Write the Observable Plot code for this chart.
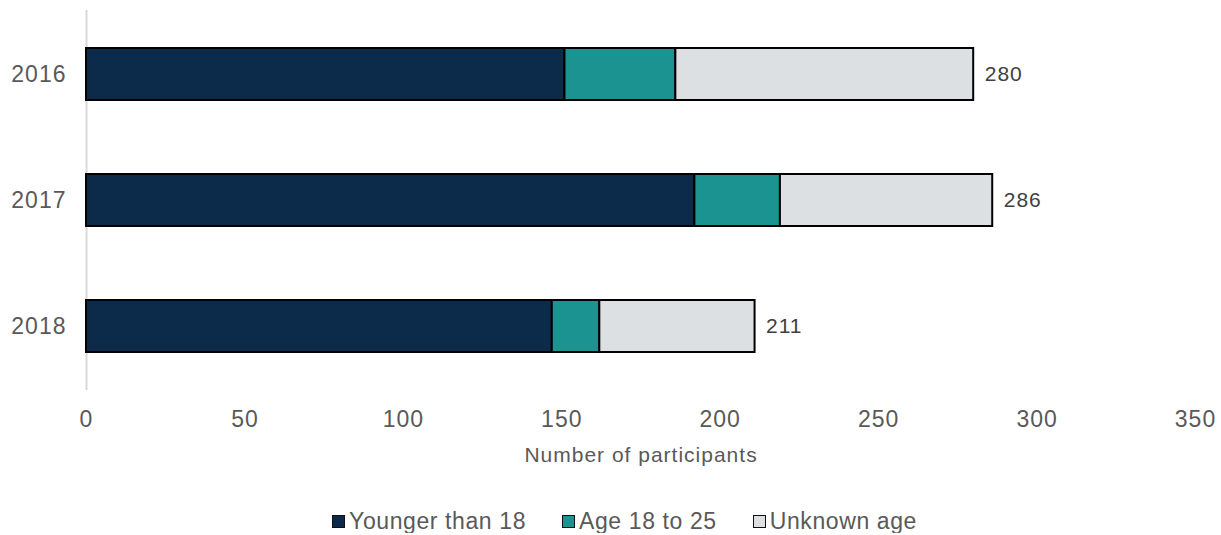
<!DOCTYPE html>
<html>
<head>
<meta charset="utf-8">
<script src="https://cdn.jsdelivr.net/npm/d3@7"></script>
<script src="https://cdn.jsdelivr.net/npm/@observablehq/plot@0.6"></script>
<style>
  body { margin: 0; background: #fff; font-family: "Liberation Sans", Arial, sans-serif; }
  #legend { display: flex; justify-content: center; gap: 36px; margin-top: 29px; margin-left: 28px;
            font-size: 23px; letter-spacing: 0.6px; color: #595959; line-height: 24px; }
  .item { display: flex; align-items: center; gap: 4px; }
  .sw { width: 11px; height: 11px; border: 1.5px solid #111; display: inline-block; }
</style>
</head>
<body>
<div id="chart"></div>
<div id="legend"></div>
<script>
const years = ["2016", "2017", "2018"];
const seriesNames = ["Younger than 18", "Age 18 to 25", "Unknown age"];
const younger = [151, 192, 147];
const age18to25 = [35, 27, 15];
const unknown = [94, 67, 49];
const totals = [280, 286, 211];
const xTicks = [0, 50, 100, 150, 200, 250, 300, 350];
const colors = ["#0c2a4a", "#1a9391", "#dde0e3"];
const xLabel = "Number of participants";

const rows = [];
years.forEach((y, i) => {
  [younger, age18to25, unknown].forEach((arr, j) => {
    rows.push({year: y, series: seriesNames[j], value: arr[i]});
  });
});
const totalRows = years.map((y, i) => ({year: y, total: totals[i]}));

const plot = Plot.plot({
  width: 1221,
  height: 480,
  marginLeft: 86,
  marginRight: 26,
  marginTop: 10,
  marginBottom: 90,
  style: {fontFamily: "'Liberation Sans', Arial, sans-serif", fontSize: "22px", color: "#595959", letterSpacing: "1px"},
  x: {domain: [0, 350], ticks: xTicks, label: null},
  y: {domain: years, paddingInner: 0.59, paddingOuter: 0.295, label: null},
  color: {domain: seriesNames, range: colors},
  marks: [
    Plot.ruleX([0], {stroke: "#d9d9d9", strokeWidth: 2}),
    Plot.barX(rows, Plot.stackX({x: "value", y: "year", fill: "series", order: seriesNames, stroke: "#000", strokeWidth: 2, inset: 0})),
    Plot.text(totalRows, {x: "total", y: "year", text: d => String(d.total), textAnchor: "start", dx: 11, fill: "#404040", fontSize: 21}),
    Plot.axisX({ticks: xTicks, tickSize: 0, tickPadding: 20, fill: "#595959", fontSize: 23}),
    Plot.axisY({tickSize: 0, tickPadding: 20, fill: "#595959", fontSize: 23}),
    Plot.text([xLabel], {frameAnchor: "bottom", dy: 65, fill: "#595959", fontSize: 21, lineAnchor: "middle"})
  ]
});
document.getElementById("chart").appendChild(plot);

const legend = document.getElementById("legend");
seriesNames.forEach((name, i) => {
  const item = document.createElement("div");
  item.className = "item";
  const sw = document.createElement("span");
  sw.className = "sw";
  sw.style.background = colors[i];
  const t = document.createElement("span");
  t.textContent = name;
  item.appendChild(sw);
  item.appendChild(t);
  legend.appendChild(item);
});
</script>
</body>
</html>
